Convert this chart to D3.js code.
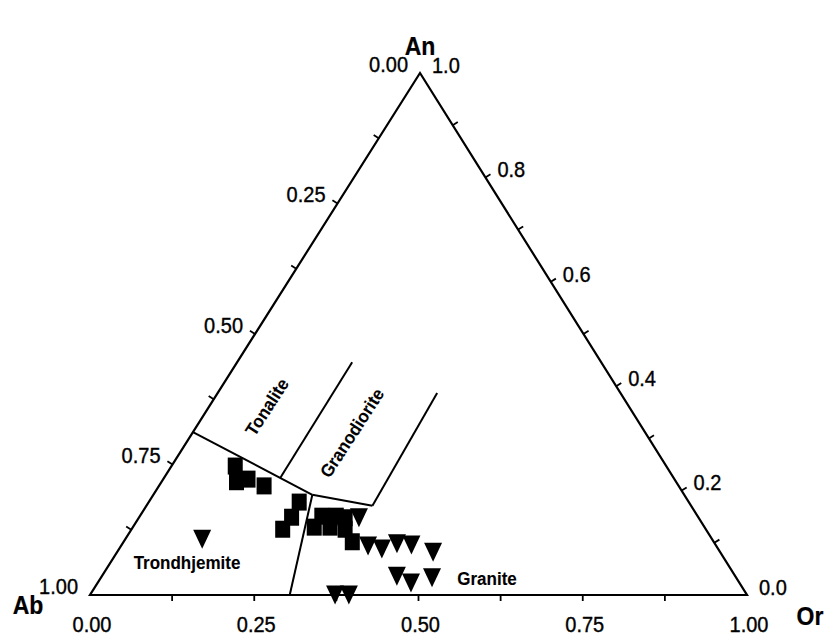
<!DOCTYPE html>
<html><head><meta charset="utf-8">
<script src="https://cdn.jsdelivr.net/npm/d3@7"></script>
<style>body{margin:0;background:#fff}svg{display:block}</style>
</head><body>
<script>
// ---- data (ternary fractions An, Ab, Or) ----
const squareAn = [0.247,0.217,0.222,0.209,0.178,0.149,0.126,0.130,0.151,0.130,0.151,0.148,0.126,0.102];
const squareOr = [0.097,0.114,0.129,0.160,0.229,0.232,0.230,0.276,0.277,0.300,0.299,0.314,0.325,0.348];
const squareAb = squareAn.map((a,i)=>+(1-a-squareOr[i]).toFixed(3));
const triAn = [0.107,0.148,0.094,0.088,0.098,0.096,0.082,0.036,0.023,0.033,0.000,0.000];
const triOr = [0.117,0.335,0.376,0.400,0.418,0.441,0.481,0.449,0.477,0.504,0.373,0.394];
const triAb = triAn.map((a,i)=>+(1-a-triOr[i]).toFixed(3));
// field boundaries: [An, Or] pairs
const boundaryTrondTonalite = [[0.312,0.000],[0.192,0.242]];
const boundaryTonaliteGrano = [[0.224,0.177],[0.446,0.175]];
const boundaryGranoBase     = [[0.192,0.242],[0.171,0.344]];
const boundaryGranoGranite  = [[0.171,0.344],[0.387,0.334]];
const boundaryTrondGranite  = [[0.192,0.242],[0.000,0.304]];
const leftTickValues  = [0.125,0.25,0.375,0.5,0.625,0.75,0.875];
const leftLabels      = ["0.00","0.25","0.50","0.75","1.00"];
const rightTickValues = [0.1,0.2,0.3,0.4,0.5,0.6,0.7,0.8,0.9];
const rightLabels     = ["0.0","0.2","0.4","0.6","0.8","1.0"];
const bottomTickValues= [0.125,0.25,0.375,0.5,0.625,0.75,0.875];
const bottomLabels    = ["0.00","0.25","0.50","0.75","1.00"];
const fieldNames = ["Tonalite","Granodiorite","Trondhjemite","Granite"];
const vertexNames = ["An","Ab","Or"];

// ---- geometry ----
const W=824,H=639;
const Bx=90, By=595, Cx=747, Ay=73, Ax=420;
const orX = d3.scaleLinear().domain([0,1]).range([0,Cx-Bx]);
const anX = d3.scaleLinear().domain([0,1]).range([0,Ax-Bx]);
const anY = d3.scaleLinear().domain([0,1]).range([By,Ay]);
const px = (an,or)=>[Bx+orX(or)+anX(an), anY(an)];

const svg=d3.select("body").append("svg").attr("width",W).attr("height",H);
const font='"Liberation Sans", Arial, sans-serif';

// triangle frame
svg.append("path").attr("d",d3.line()([px(1,0),px(0,0),px(0,1)])+"Z")
  .attr("fill","none").attr("stroke","#000").attr("stroke-width",2.2).attr("stroke-linejoin","miter");

// ticks
const tl=6;
const nL=[-0.845,-0.534], nR=[0.847,-0.531];
leftTickValues.forEach(v=>{const p=px(1-v,0);
  svg.append("line").attr("x1",p[0]).attr("y1",p[1]).attr("x2",p[0]+nL[0]*tl).attr("y2",p[1]+nL[1]*tl).attr("stroke","#000").attr("stroke-width",1.8);});
rightTickValues.forEach(v=>{const p=px(v,1-v);
  svg.append("line").attr("x1",p[0]).attr("y1",p[1]).attr("x2",p[0]+nR[0]*tl).attr("y2",p[1]+nR[1]*tl).attr("stroke","#000").attr("stroke-width",1.8);});
bottomTickValues.forEach(v=>{const p=px(0,v);
  svg.append("line").attr("x1",p[0]).attr("y1",p[1]).attr("x2",p[0]).attr("y2",p[1]+tl).attr("stroke","#000").attr("stroke-width",1.8);});

function txt(x,y,s,opt){
  const t=svg.append("text").attr("transform",`translate(${x},${y}) rotate(${opt.rot||0}) scale(1,${opt.sy||1.1})`)
    .attr("font-family",font).attr("font-size",opt.size||20).attr("font-weight",opt.bold?"bold":"normal")
    .attr("text-anchor",opt.anchor||"middle").attr("dominant-baseline","central").attr("fill","#000")
    .attr("stroke","#000").attr("stroke-width",opt.sw||0.35).text(s);
  return t;
}
// left labels (Ab fraction 0 at top)
leftLabels.forEach((s,i)=>{const v=i*0.25;const p=px(1-v,0);txt(p[0]-12,p[1]-9,s,{anchor:"end"});});
// right labels (An)
rightLabels.forEach((s,i)=>{const v=i*0.2;const p=px(v,1-v);txt(p[0]+12,p[1]-8,s,{anchor:"start"});});
// bottom labels (Or)
bottomLabels.forEach((s,i)=>{const v=i*0.25;const p=px(0,v);txt(p[0]+2,p[1]+29,s,{});});

// vertex names
txt(420,46,vertexNames[0],{size:23,bold:true,sw:0.2});
txt(28,605,vertexNames[1],{size:23,bold:true,sw:0.2});
txt(810,616,vertexNames[2],{size:23,bold:true,sw:0.2});

// boundaries
[boundaryTrondTonalite,boundaryTonaliteGrano,boundaryGranoBase,boundaryGranoGranite,boundaryTrondGranite].forEach(b=>{
  svg.append("path").attr("d",d3.line()(b.map(d=>px(d[0],d[1])))).attr("fill","none").attr("stroke","#000").attr("stroke-width",2);
});

// field labels
txt(267,407,fieldNames[0],{size:17,bold:true,rot:-57,sy:1.05,sw:0.1});
txt(352,433,fieldNames[1],{size:17,bold:true,rot:-57,sy:1.05,sw:0.1});
txt(187,563,fieldNames[2],{size:17,bold:true,sy:1.05,sw:0.1});
txt(487,579,fieldNames[3],{size:17,bold:true,sy:1.05,sw:0.1});

// markers
const sqW=15, sqH=17;
svg.append("g").selectAll("rect").data(squareAn.map((a,i)=>({an:a,or:squareOr[i],ab:squareAb[i]}))).join("rect")
  .attr("x",d=>px(d.an,d.or)[0]-sqW/2).attr("y",d=>px(d.an,d.or)[1]-sqH/2)
  .attr("width",sqW).attr("height",sqH).attr("fill","#000");
const tw=18, th=19;
svg.append("g").selectAll("path").data(triAn.map((a,i)=>({an:a,or:triOr[i],ab:triAb[i]}))).join("path")
  .attr("d",d=>{const p=px(d.an,d.or);return `M${p[0]-tw/2},${p[1]-th/2}L${p[0]+tw/2},${p[1]-th/2}L${p[0]},${p[1]+th/2}Z`;})
  .attr("fill","#000");
</script>
</body></html>
